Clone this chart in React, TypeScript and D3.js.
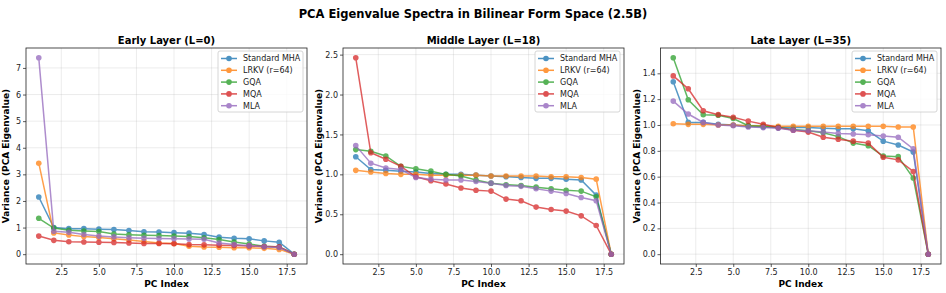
import React, { useEffect, useRef } from "react";
import * as d3 from "d3";

// PC index 1..18
const pcIndex = [1, 2, 3, 4, 5, 6, 7, 8, 9, 10, 11, 12, 13, 14, 15, 16, 17, 18];

const methods = ["Standard MHA", "LRKV (r=64)", "GQA", "MQA", "MLA"];
const colors = ["#1f77b4", "#ff7f0e", "#2ca02c", "#d62728", "#9467bd"];

// Early layer (L=0)
const earlyMHA = [2.15, 1.0, 0.96, 0.96, 0.94, 0.93, 0.89, 0.84, 0.83, 0.81, 0.79, 0.74, 0.64, 0.6, 0.58, 0.5, 0.45, 0];
const earlyLRKV = [3.42, 0.8, 0.72, 0.66, 0.63, 0.58, 0.53, 0.48, 0.42, 0.4, 0.3, 0.27, 0.26, 0.24, 0.24, 0.22, 0.18, 0];
const earlyGQA = [1.35, 0.98, 0.9, 0.87, 0.85, 0.76, 0.73, 0.71, 0.7, 0.68, 0.66, 0.62, 0.55, 0.46, 0.38, 0.3, 0.27, 0];
const earlyMQA = [0.68, 0.52, 0.47, 0.46, 0.45, 0.44, 0.42, 0.4, 0.4, 0.39, 0.36, 0.35, 0.34, 0.33, 0.31, 0.29, 0.28, 0];
const earlyMLA = [7.38, 0.86, 0.82, 0.74, 0.68, 0.65, 0.62, 0.6, 0.59, 0.58, 0.57, 0.56, 0.42, 0.36, 0.32, 0.28, 0.25, 0];

// Middle layer (L=18)
const midMHA = [1.22, 1.06, 1.05, 1.04, 1.03, 1.01, 1.0, 1.0, 0.99, 0.98, 0.97, 0.96, 0.95, 0.95, 0.94, 0.93, 0.74, 0];
const midLRKV = [1.05, 1.03, 1.01, 1.0, 1.0, 0.99, 0.99, 0.99, 0.99, 0.98, 0.98, 0.98, 0.98, 0.97, 0.97, 0.96, 0.94, 0];
const midGQA = [1.31, 1.29, 1.23, 1.1, 1.07, 1.04, 1.0, 0.98, 0.93, 0.89, 0.87, 0.86, 0.84, 0.82, 0.8, 0.79, 0.72, 0];
const midMQA = [2.46, 1.27, 1.19, 1.1, 0.97, 0.92, 0.88, 0.83, 0.8, 0.79, 0.69, 0.67, 0.59, 0.56, 0.54, 0.48, 0.36, 0];
const midMLA = [1.36, 1.14, 1.08, 1.06, 0.96, 0.94, 0.93, 0.93, 0.91, 0.89, 0.86, 0.85, 0.82, 0.79, 0.76, 0.71, 0.67, 0];

// Late layer (L=35)
const lateMHA = [1.335, 1.02, 1.02, 1.005, 1.0, 0.99, 0.985, 0.98, 0.98, 0.98, 0.975, 0.97, 0.97, 0.955, 0.875, 0.845, 0.79, 0];
const lateLRKV = [1.01, 1.005, 1.005, 1.0, 1.0, 0.995, 0.995, 0.99, 0.99, 0.99, 0.99, 0.99, 0.99, 0.99, 0.99, 0.985, 0.985, 0];
const lateGQA = [1.52, 1.195, 1.08, 1.075, 1.05, 0.995, 0.99, 0.98, 0.965, 0.955, 0.94, 0.91, 0.86, 0.84, 0.76, 0.755, 0.59, 0];
const lateMQA = [1.38, 1.28, 1.11, 1.08, 1.06, 1.03, 1.005, 0.98, 0.96, 0.945, 0.905, 0.89, 0.875, 0.86, 0.75, 0.73, 0.64, 0];
const lateMLA = [1.185, 1.085, 1.02, 1.0, 0.995, 0.985, 0.98, 0.975, 0.96, 0.955, 0.945, 0.935, 0.93, 0.925, 0.915, 0.905, 0.815, 0];

const xTicks = [2.5, 5.0, 7.5, 10.0, 12.5, 15.0, 17.5];

const panels = [
  { title: "Early Layer (L=0)", series: [earlyMHA, earlyLRKV, earlyGQA, earlyMQA, earlyMLA], yTicks: [0, 1, 2, 3, 4, 5, 6, 7], fmt: "d" },
  { title: "Middle Layer (L=18)", series: [midMHA, midLRKV, midGQA, midMQA, midMLA], yTicks: [0, 0.5, 1.0, 1.5, 2.0, 2.5], fmt: ".1f" },
  { title: "Late Layer (L=35)", series: [lateMHA, lateLRKV, lateGQA, lateMQA, lateMLA], yTicks: [0, 0.2, 0.4, 0.6, 0.8, 1.0, 1.2, 1.4], fmt: ".1f" },
];

const W = 946;
const H = 293;
const FONT = "DejaVu Sans, sans-serif";

const App = () => {
  const svgRef = useRef<SVGSVGElement>(null);

  useEffect(() => {
    document.body.style.margin = "0";
    const svg = d3.select(svgRef.current);
    svg.selectAll("*").remove();

    svg
      .append("text")
      .attr("x", 473)
      .attr("y", 18)
      .attr("text-anchor", "middle")
      .attr("font-family", FONT)
      .attr("font-weight", "bold")
      .attr("font-size", 11.5)
      .text("PCA Eigenvalue Spectra in Bilinear Form Space (2.5B)");

    // axes boxes [left, right]
    const boxes = [
      [26, 307],
      [343, 624],
      [660.5, 941],
    ];
    const top = 48;
    const bottom = 264;

    panels.forEach((p, pi) => {
      const [left, right] = boxes[pi];
      const g = svg.append("g");

      const xScale = d3.scaleLinear().domain([0.15, 18.85]).range([left, right]);
      const yMax = d3.max(p.series.flat()) as number;
      const pad = yMax * 0.05;
      const yScale = d3.scaleLinear().domain([-pad, yMax + pad]).range([bottom, top]);

      // grid
      g.selectAll(".gx")
        .data(xTicks)
        .join("line")
        .attr("x1", (d) => xScale(d))
        .attr("x2", (d) => xScale(d))
        .attr("y1", top)
        .attr("y2", bottom)
        .attr("stroke", "#b0b0b0")
        .attr("stroke-opacity", 0.3)
        .attr("stroke-width", 0.8);
      g.selectAll(".gy")
        .data(p.yTicks)
        .join("line")
        .attr("x1", left)
        .attr("x2", right)
        .attr("y1", (d) => yScale(d))
        .attr("y2", (d) => yScale(d))
        .attr("stroke", "#b0b0b0")
        .attr("stroke-opacity", 0.3)
        .attr("stroke-width", 0.8);

      // axes
      const xAxis = d3
        .axisBottom(xScale)
        .tickValues(xTicks)
        .tickFormat(d3.format(".1f"))
        .tickSize(3)
        .tickPadding(2);
      const yAxis = d3
        .axisLeft(yScale)
        .tickValues(p.yTicks)
        .tickFormat(d3.format(p.fmt) as any)
        .tickSize(3)
        .tickPadding(2);

      const gx = g.append("g").attr("transform", `translate(0, ${bottom})`).call(xAxis);
      const gy = g.append("g").attr("transform", `translate(${left}, 0)`).call(yAxis);
      [gx, gy].forEach((a) => {
        a.select(".domain").remove();
        a.selectAll("text").attr("font-family", FONT).attr("font-size", 8).attr("fill", "#222");
        a.selectAll("line").attr("stroke", "#333").attr("stroke-width", 0.8);
      });

      g.append("rect")
        .attr("x", left)
        .attr("y", top)
        .attr("width", right - left)
        .attr("height", bottom - top)
        .attr("fill", "none")
        .attr("stroke", "#222")
        .attr("stroke-width", 0.8);

      // lines + markers
      const line = d3
        .line<number>()
        .x((_, i) => xScale(pcIndex[i]))
        .y((d) => yScale(d));

      p.series.forEach((s, si) => {
        const sg = g.append("g").attr("opacity", 0.75);
        sg.append("path")
          .attr("d", line(s))
          .attr("fill", "none")
          .attr("stroke", colors[si])
          .attr("stroke-width", 1.5);
        sg.selectAll("circle")
          .data(s)
          .join("circle")
          .attr("cx", (_, i) => xScale(pcIndex[i]))
          .attr("cy", (d) => yScale(d))
          .attr("r", 2.8)
          .attr("fill", colors[si]);
      });

      // titles
      g.append("text")
        .attr("x", (left + right) / 2)
        .attr("y", 44)
        .attr("text-anchor", "middle")
        .attr("font-family", FONT)
        .attr("font-weight", "bold")
        .attr("font-size", 10)
        .text(p.title);
      g.append("text")
        .attr("x", (left + right) / 2)
        .attr("y", 287)
        .attr("text-anchor", "middle")
        .attr("font-family", FONT)
        .attr("font-weight", "bold")
        .attr("font-size", 9)
        .text("PC Index");
      const ylx = pi === 0 ? 8.5 : left - 21;
      g.append("text")
        .attr("transform", `translate(${ylx}, ${(top + bottom) / 2}) rotate(-90)`)
        .attr("text-anchor", "middle")
        .attr("font-family", FONT)
        .attr("font-weight", "bold")
        .attr("font-size", 9)
        .text("Variance (PCA Eigenvalue)");

      // legend
      const lw = 85;
      const lx = right - 4 - lw;
      const ly = 51;
      const lg = g.append("g");
      lg.append("rect")
        .attr("x", lx)
        .attr("y", ly)
        .attr("width", lw)
        .attr("height", 61)
        .attr("rx", 2)
        .attr("fill", "white")
        .attr("fill-opacity", 0.8)
        .attr("stroke", "#cccccc")
        .attr("stroke-width", 0.8);
      methods.forEach((m, mi) => {
        const yy = ly + 7.5 + mi * 11.8;
        const row = lg.append("g").attr("opacity", 0.8);
        row.append("line")
          .attr("x1", lx + 3)
          .attr("x2", lx + 19)
          .attr("y1", yy)
          .attr("y2", yy)
          .attr("stroke", colors[mi])
          .attr("stroke-width", 1.5);
        row.append("circle").attr("cx", lx + 11).attr("cy", yy).attr("r", 2.8).attr("fill", colors[mi]);
        lg.append("text")
          .attr("x", lx + 25)
          .attr("y", yy)
          .attr("dy", "0.35em")
          .attr("font-family", FONT)
          .attr("font-size", 8)
          .attr("fill", "#222")
          .text(m);
      });
    });
  }, []);

  return (
    <div>
      <svg ref={svgRef} width={W} height={H} style={{ display: "block", background: "white" }}></svg>
    </div>
  );
};

export default App;
